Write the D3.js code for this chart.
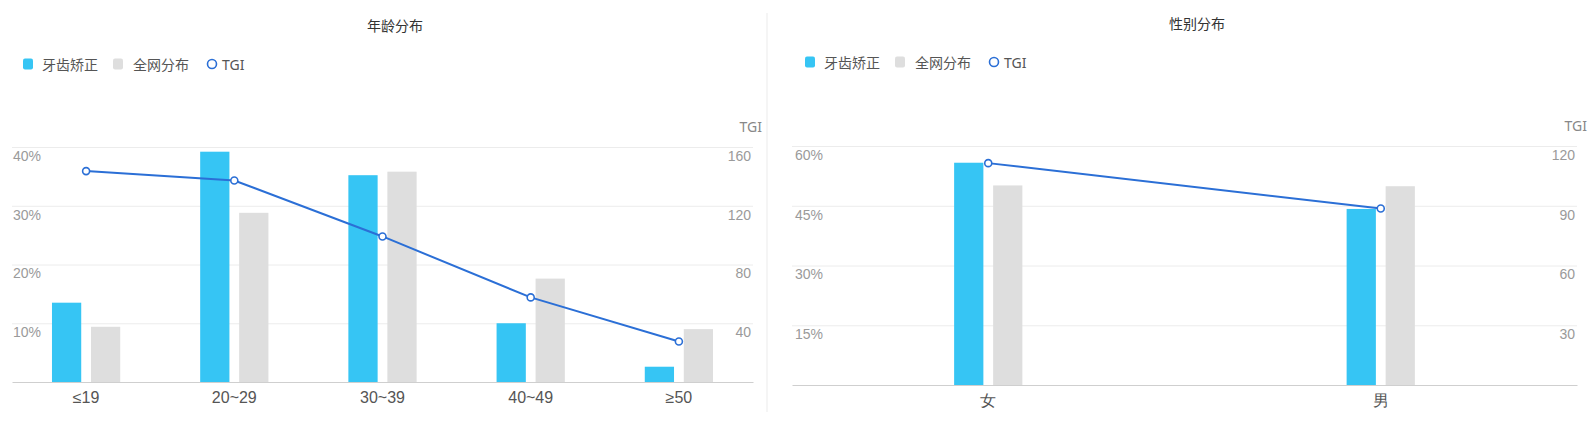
<!DOCTYPE html>
<html>
<head>
<meta charset="utf-8">
<script src="https://cdn.jsdelivr.net/npm/d3@7"></script>
<style>
  html, body { margin: 0; padding: 0; background: #fff; }
  svg { display: block; font-family: "Noto Sans", "Noto Sans CJK SC", sans-serif; }
</style>
</head>
<body>
<svg id="chart" width="1596" height="431"></svg>
<script>
// ---- Data ----
const seriesNames = ["牙齿矫正", "全网分布", "TGI"];

const ageTitle = "年龄分布";
const ageCategories = ["≤19", "20~29", "30~39", "40~49", "≥50"];
const ageTarget = [0.135, 0.392, 0.352, 0.100, 0.026];
const ageNetwork = [0.094, 0.288, 0.358, 0.176, 0.090];
const ageTGI = [143.6, 137.2, 99.1, 57.6, 27.6];
const ageLeftTicks = [0.1, 0.2, 0.3, 0.4];
const ageRightTicks = [40, 80, 120, 160];

const genderTitle = "性别分布";
const genderCategories = ["女", "男"];
const genderTarget = [0.558, 0.442];
const genderNetwork = [0.501, 0.499];
const genderTGI = [111.4, 88.6];
const genderLeftTicks = [0.15, 0.30, 0.45, 0.60];
const genderRightTicks = [30, 60, 90, 120];

// ---- Styles ----
const BLUE = "#36c5f4";
const GRAY = "#dedede";
const LINE = "#2b6fd6";

const svg = d3.select("#chart");

function drawChart(cfg) {
  const g = svg.append("g");
  const x0 = d3.scaleBand().domain(cfg.categories).range([cfg.left, cfg.right]);
  const x1 = d3.scaleBand().domain([seriesNames[0], seriesNames[1]])
    .range([-39, 39]).paddingInner(0.25).paddingOuter(0.125);
  const yL = d3.scaleLinear().domain([0, cfg.leftMax]).range([cfg.bottom, cfg.top]);
  const yR = d3.scaleLinear().domain([0, cfg.rightMax]).range([cfg.bottom, cfg.top]);

  // title
  g.append("text").attr("x", cfg.titleX).attr("y", cfg.titleY)
    .attr("text-anchor", "middle").attr("dominant-baseline", "central")
    .attr("font-size", 14).attr("fill", "#333").text(cfg.title);

  // legend
  const lg = g.append("g").attr("transform", `translate(${cfg.legendX},${cfg.legendY})`);
  lg.append("rect").attr("x", 0).attr("y", -5.5).attr("width", 10).attr("height", 11).attr("rx", 2).attr("fill", BLUE);
  lg.append("text").attr("x", 19).attr("y", 0).attr("dominant-baseline", "central")
    .attr("font-size", 14).attr("fill", "#555").text(seriesNames[0]);
  lg.append("rect").attr("x", 90).attr("y", -5.5).attr("width", 10).attr("height", 11).attr("rx", 2).attr("fill", GRAY);
  lg.append("text").attr("x", 110).attr("y", 0).attr("dominant-baseline", "central")
    .attr("font-size", 14).attr("fill", "#555").text(seriesNames[1]);
  lg.append("circle").attr("cx", 189).attr("cy", 0).attr("r", 4.5)
    .attr("fill", "#fff").attr("stroke", LINE).attr("stroke-width", 1.6);
  lg.append("text").attr("x", 199).attr("y", 0).attr("dominant-baseline", "central")
    .attr("font-size", 14).attr("fill", "#555").text(seriesNames[2]);

  // gridlines via axis
  const grid = g.append("g").attr("transform", `translate(${cfg.left},0)`)
    .call(d3.axisLeft(yL).tickValues(cfg.leftTicks).tickSize(-(cfg.right - cfg.left)).tickFormat(""));
  grid.select(".domain").remove();
  grid.selectAll(".tick line").attr("stroke", "#ececec");

  // left axis labels
  const la = g.append("g").attr("transform", `translate(${cfg.leftLabelX},0)`)
    .call(d3.axisLeft(yL).tickValues(cfg.leftTicks).tickSize(0).tickFormat(d3.format(".0%")));
  la.select(".domain").remove();
  la.selectAll(".tick text").attr("x", 0).attr("dy", "0.95em").attr("text-anchor", "start")
    .attr("font-size", 14).attr("fill", "#9a9a9a").attr("font-family", null);

  // right axis labels
  const ra = g.append("g").attr("transform", `translate(${cfg.rightLabelX},0)`)
    .call(d3.axisRight(yR).tickValues(cfg.rightTicks).tickSize(0));
  ra.select(".domain").remove();
  ra.selectAll(".tick text").attr("x", 0).attr("dy", "0.95em").attr("text-anchor", "end")
    .attr("font-size", 14).attr("fill", "#9a9a9a").attr("font-family", null);
  g.append("text").attr("x", cfg.tgiNameX).attr("y", cfg.top - 21)
    .attr("text-anchor", "end").attr("dominant-baseline", "central")
    .attr("font-size", 14).attr("fill", "#888").text("TGI");

  // bars
  const rows = cfg.categories.map((c, i) => ({ c, a: cfg.target[i], b: cfg.network[i], t: cfg.tgi[i] }));
  const bg = g.append("g");
  rows.forEach(r => {
    const cx = x0(r.c) + x0.bandwidth() / 2;
    bg.append("rect").attr("x", cx + x1(seriesNames[0])).attr("width", x1.bandwidth())
      .attr("y", yL(r.a)).attr("height", yL(0) - yL(r.a)).attr("fill", BLUE);
    bg.append("rect").attr("x", cx + x1(seriesNames[1])).attr("width", x1.bandwidth())
      .attr("y", yL(r.b)).attr("height", yL(0) - yL(r.b)).attr("fill", GRAY);
  });

  // x axis
  const xa = g.append("g").attr("transform", `translate(0,${cfg.bottom})`)
    .call(d3.axisBottom(x0).tickSize(0).tickPadding(16));
  xa.select(".domain").attr("stroke", "#cfcfcf");
  xa.selectAll(".tick text").attr("font-size", 16).attr("fill", "#555").attr("font-family", null)
    .attr("dy", "0.32em");

  // TGI line
  const lineGen = d3.line().x(r => x0(r.c) + x0.bandwidth() / 2).y(r => yR(r.t));
  g.append("path").datum(rows).attr("d", lineGen).attr("fill", "none")
    .attr("stroke", LINE).attr("stroke-width", 2);
  g.selectAll(null).data(rows).enter().append("circle")
    .attr("cx", r => x0(r.c) + x0.bandwidth() / 2).attr("cy", r => yR(r.t)).attr("r", 3.5)
    .attr("fill", "#fff").attr("stroke", LINE).attr("stroke-width", 1.6);
}

drawChart({
  title: ageTitle, categories: ageCategories, target: ageTarget, network: ageNetwork, tgi: ageTGI,
  leftTicks: ageLeftTicks, rightTicks: ageRightTicks, leftMax: 0.4, rightMax: 160,
  left: 12, right: 753, top: 147, bottom: 382,
  titleX: 395, titleY: 25, legendX: 23, legendY: 64,
  leftLabelX: 13, rightLabelX: 751, tgiNameX: 762
});

drawChart({
  title: genderTitle, categories: genderCategories, target: genderTarget, network: genderNetwork, tgi: genderTGI,
  leftTicks: genderLeftTicks, rightTicks: genderRightTicks, leftMax: 0.6, rightMax: 120,
  left: 792, right: 1577, top: 146, bottom: 385,
  titleX: 1197, titleY: 23, legendX: 805, legendY: 62,
  leftLabelX: 795, rightLabelX: 1575, tgiNameX: 1587
});

// separator
svg.append("line").attr("x1", 767).attr("x2", 767).attr("y1", 13).attr("y2", 412)
  .attr("stroke", "#ebebeb").attr("stroke-width", 1);
</script>
</body>
</html>
